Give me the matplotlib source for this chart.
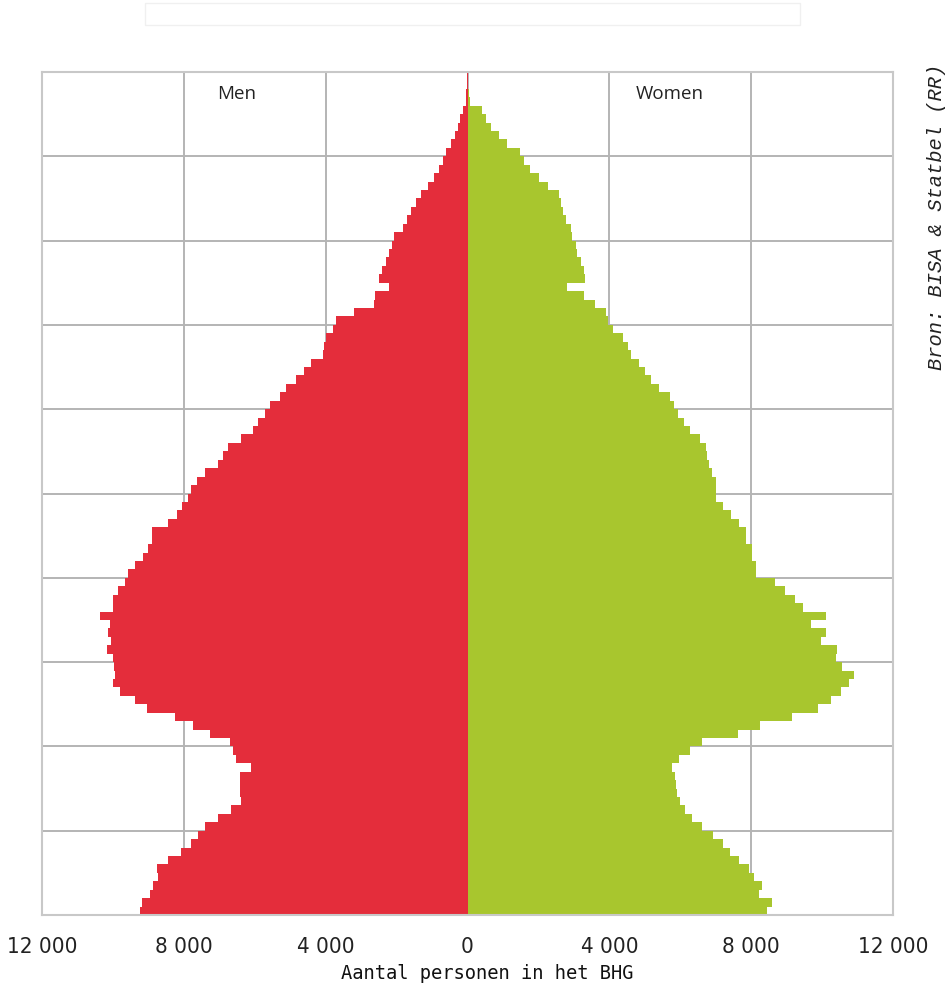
import numpy as np
import matplotlib
matplotlib.use('Agg')
import matplotlib.pyplot as plt
import matplotlib.patches as mpatches

# one bar per year of age, 0..99
ages = np.arange(0, 100)

men = [9240, 9190, 8960, 8870, 8720, 8770, 8440, 8070, 7790, 7600,
       7410, 7040, 6660, 6380, 6430, 6430, 6430, 6100, 6520, 6610,
       6710, 7270, 7740, 8260, 9050, 9380, 9800, 9990, 9940, 9960,
       9990, 10180, 10040, 10130, 10090, 10370, 9990, 9990, 9850, 9660,
       9570, 9380, 9150, 9000, 8900, 8900, 8440, 8200, 8060, 7880,
       7790, 7640, 7400, 7040, 6900, 6750, 6400, 6050, 5900, 5700,
       5580, 5300, 5110, 4830, 4600, 4410, 4080, 4050, 3990, 3800,
       3700, 3190, 2630, 2600, 2200, 2490, 2400, 2300, 2200, 2130,
       2060, 1830, 1700, 1600, 1450, 1310, 1100, 940, 800, 700,
       610, 470, 350, 260, 200, 140, 50, 30, 15, 8]

women = [8450, 8590, 8220, 8310, 8080, 7940, 7660, 7390, 7200, 6930,
         6600, 6330, 6140, 6000, 5910, 5880, 5860, 5770, 5960, 6280,
         6600, 7620, 8260, 9140, 9880, 10250, 10530, 10760, 10900, 10570,
         10390, 10430, 9970, 10110, 9700, 10110, 9470, 9230, 8960, 8680,
         8130, 8130, 8030, 8030, 7850, 7850, 7660, 7430, 7200, 7020,
         7020, 7020, 6900, 6800, 6750, 6740, 6560, 6280, 6100, 5950,
         5820, 5720, 5400, 5170, 5000, 4850, 4600, 4520, 4390, 4100,
         3970, 3920, 3600, 3280, 2820, 3320, 3280, 3190, 3100, 3050,
         2960, 2910, 2770, 2700, 2630, 2590, 2260, 2030, 1750, 1600,
         1480, 1110, 880, 650, 530, 420, 60, 30, 15, 8]

xticks = [-12000, -8000, -4000, 0, 4000, 8000, 12000]
xticklabels = ['12 000', '8 000', '4 000', '0', '4 000', '8 000', '12 000']

red = '#e42d3b'
green = '#a8c62e'
grid_c = '#b4b4b4'

fig = plt.figure(figsize=(9.49, 9.94), dpi=100)
ax = fig.add_axes([42/949, 1 - 915/994, (893-42)/949, (915-72)/994])

ax.barh(ages + 0.5, -np.array(men), height=1.0, color=red, linewidth=0, zorder=2)
ax.barh(ages + 0.5, women, height=1.0, color=green, linewidth=0, zorder=2)

ax.set_xlim(-12000, 12000)
ax.set_ylim(0, 100)
ax.set_yticks(np.arange(10, 100, 10))
ax.set_yticklabels([])
ax.tick_params(axis='y', length=0)
ax.set_xticks(xticks)
ax.set_xticklabels(xticklabels, family='DejaVu Sans', fontstretch='condensed', fontsize=16)
ax.tick_params(axis='x', length=0, pad=16, colors='#222222')
ax.grid(True, color=grid_c, linewidth=1.4, zorder=0)
ax.set_axisbelow(True)
for s in ax.spines.values():
    s.set_color('#c8c8c8')
    s.set_linewidth(1.5)

ax.set_xlabel('Aantal personen in het BHG', family='DejaVu Sans Mono', fontstretch='condensed',
              fontsize=13.5, color='#111111')
ax.xaxis.set_label_coords((487 - 42) / 851, -0.058)

ax.text(-6500, 97.4, 'Men', ha='center', va='center', fontsize=13.5,
        family=['Open Sans', 'DejaVu Sans'], color='#222222')
ax.text(5700, 97.4, 'Women', ha='center', va='center', fontsize=13.5,
        family=['Open Sans', 'DejaVu Sans'], color='#222222')

fig.text(936/949, 1 - 370/994, 'Bron: BISA & Statbel (RR)', rotation=90,
         ha='center', va='bottom', fontsize=14.7, style='italic',
         family=['Liberation Mono', 'DejaVu Sans Mono'], color='#222222')

# faint empty title box at the top
fig.patches.append(mpatches.Rectangle((145/949, 1 - 25/994), 655/949, 22/994,
                                      transform=fig.transFigure, fill=False,
                                      edgecolor='#f0f0f0', linewidth=1))

fig.savefig('out.png', dpi=100)
